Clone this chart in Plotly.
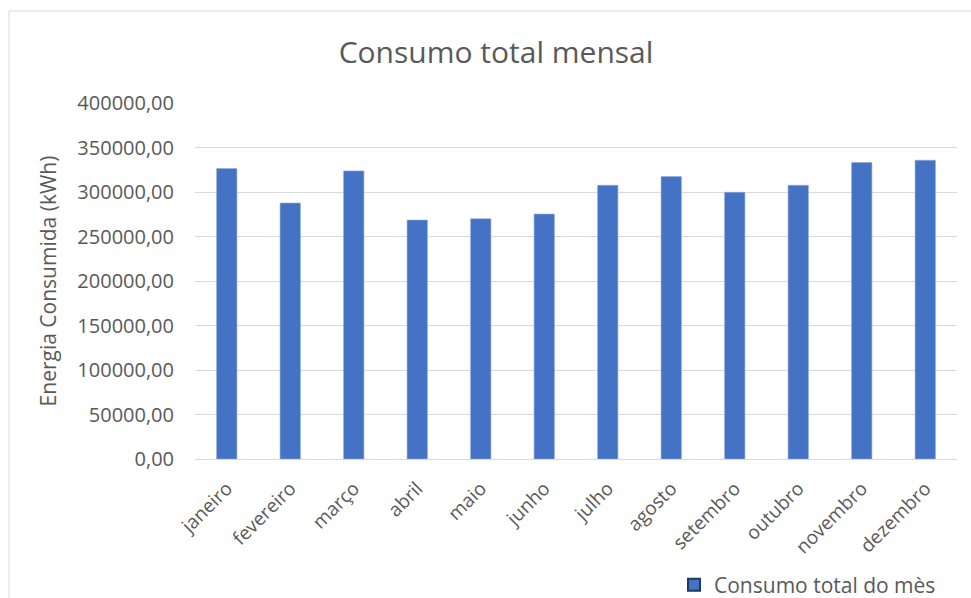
import plotly.graph_objects as go

meses = ["janeiro", "fevereiro", "março", "abril", "maio", "junho",
         "julho", "agosto", "setembro", "outubro", "novembro", "dezembro"]
consumo = [326400, 287600, 323700, 268500, 270000, 275200,
           307500, 317300, 299700, 307500, 333100, 335700]
y_ticks = [0, 50000, 100000, 150000, 200000, 250000, 300000, 350000, 400000]
y_tick_labels = [f"{v},00" for v in y_ticks]

serie_nome = "Consumo total do mès"
azul = "#4472C4"
cinza_texto = "#595959"
fonte = "Open Sans, sans-serif"

fig = go.Figure()
fig.add_trace(go.Bar(
    x=meses, y=consumo, name=serie_nome, showlegend=False,
    marker=dict(color=azul, line=dict(color="#8FAADC", width=0.6)),
))
# legend entry with dark square outline
fig.add_trace(go.Scatter(
    x=[None], y=[None], mode="markers", name=serie_nome,
    marker=dict(symbol="square", size=14, color=azul,
                line=dict(color="#203864", width=1.5)),
))

L, R, T, B = 195, 14, 103, 139
W, H = 971, 598
pw, ph = W - L - R, H - T - B

def px_x(p):
    return (p - L) / pw

def px_y(p):
    return (H - B - p) / ph

fig.add_shape(type="rect", xref="paper", yref="paper",
              x0=px_x(9), x1=px_x(978), y0=px_y(605), y1=px_y(11),
              line=dict(color="#D9D9D9", width=1), layer="below")

fig.update_layout(
    width=W, height=H,
    margin=dict(l=L, r=R, t=T, b=B, autoexpand=False),
    paper_bgcolor="white", plot_bgcolor="white",
    font=dict(family=fonte, color=cinza_texto, size=17),
    title=dict(text="Consumo total mensal", x=496 / W, xref="container",
               xanchor="center", y=1 - 52 / H, yref="container", yanchor="middle",
               font=dict(size=30, color=cinza_texto, family=fonte)),
    bargap=0.68,
    showlegend=True,
    legend=dict(x=674 / W, y=1 - 585 / H, xref="container", yref="container",
                xanchor="left", yanchor="middle",
                font=dict(size=21, color=cinza_texto), bgcolor="rgba(0,0,0,0)",
                itemsizing="constant"),
    xaxis=dict(tickangle=-45, showgrid=False, showline=True, automargin=False,
               linecolor="#D9D9D9", linewidth=1, ticks="",
               ticklabelstandoff=10,
               tickfont=dict(size=19, color=cinza_texto)),
    yaxis=dict(range=[0, 400000], tickvals=y_ticks, ticktext=y_tick_labels,
               showgrid=True, gridcolor="#D9D9D9", gridwidth=1, automargin=False,
               zeroline=False, showline=False, ticks="",
               ticklabelstandoff=20,
               tickfont=dict(size=20, color=cinza_texto)),
)
fig.update_yaxes(title=dict(text="Energia Consumida (kWh)", standoff=14,
                            font=dict(size=21, color=cinza_texto)))

fig.write_html("out.html")
